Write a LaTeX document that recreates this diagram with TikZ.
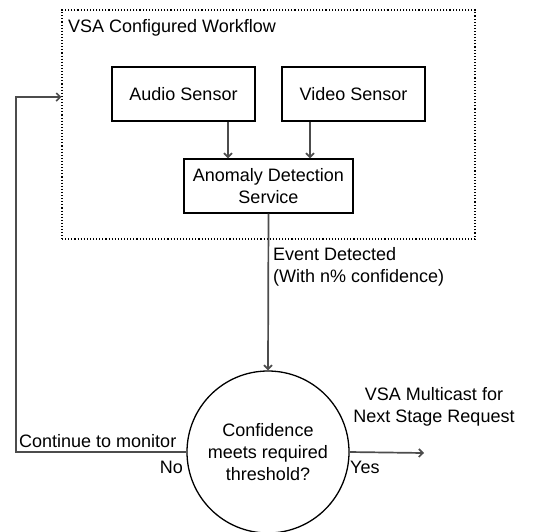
\documentclass[tikz,border=0pt]{standalone}
\usepackage{fontspec}
\setmainfont{Liberation Sans}
\usetikzlibrary{arrows.meta}
\begin{document}
\begin{tikzpicture}[x=1pt,y=-1pt,
  txt/.style={font=\fontsize{18}{22}\selectfont, inner sep=0pt},
  box/.style={txt, draw=black, line width=1.3pt, minimum width=143pt,
    minimum height=54pt, align=center},
  flow/.style={draw=black!70, line width=1.7pt,
    -{Straight Barb[length=4pt,width=8pt]}}]
\useasboundingbox (0,0) rectangle (548,531);

% dotted frame of the workflow
\node[draw=black, dotted, line width=1.1pt, minimum width=413pt,
  minimum height=229pt, inner sep=0pt] (wf) at (268.5,124.5) {};
\node[txt, anchor=base west] (title) at (68,32) {VSA Configured Workflow};

% sensors and detection service
\node[box] (audio) at (183.5,94) {Audio Sensor};
\node[box] (video) at (353.5,94) {Video Sensor};
\node[box, minimum width=169pt] (anom) at (268.5,186) {Anomaly Detection\\Service};

% decision
\node[txt, circle, draw=black, line width=1.3pt, minimum size=162pt,
  align=center] (conf) at (268,452) {Confidence\\meets required\\threshold?};

\coordinate (loop) at (16,97);
\coordinate (out) at (424,453);

% connectors
\draw[flow] ([xshift=44.5pt]audio.south) -- ([xshift=44.5pt]audio.south |- anom.north);
\draw[flow] ([xshift=-43.5pt]video.south) -- ([xshift=-43.5pt]video.south |- anom.north);
\draw[flow] (anom.south) -- (conf.north);
\draw[flow] (conf.east) -- (out);
\draw[flow] (conf.west) -| (loop) -- (loop -| wf.west);

% labels
\node[txt, anchor=base west, align=left] (evt) at (273,282)
  {Event Detected\\(With n\% confidence)};
\node[txt, anchor=base west] (cont) at (19,447) {Continue to monitor};
\node[txt, anchor=base east] (no) at (183,473) {No};
\node[txt, anchor=base west] (yes) at (350,473) {Yes};
\node[txt, anchor=base, align=center] (mc) at (434,422)
  {VSA Multicast for\\Next Stage Request};
\end{tikzpicture}
\end{document}
